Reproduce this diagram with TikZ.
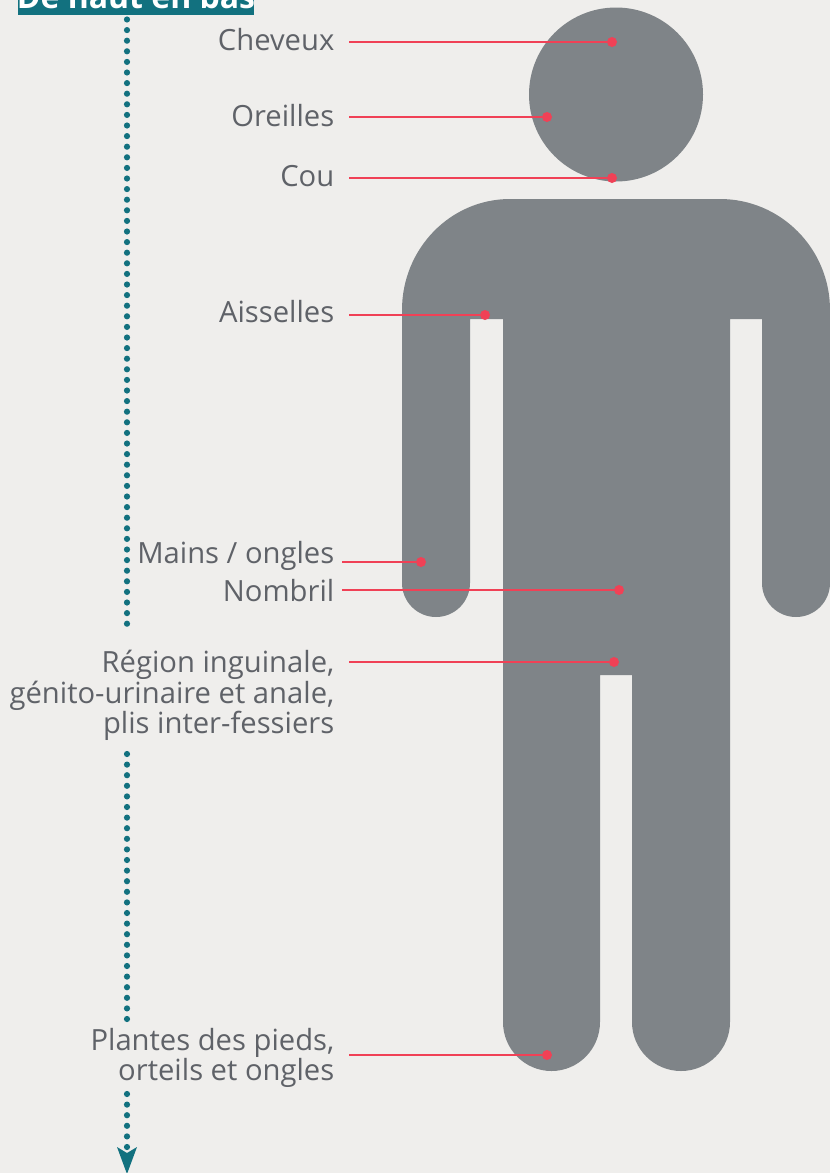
\documentclass[tikz,border=0pt]{standalone}
\usepackage{fontspec}
\setmainfont{Open Sans}
\definecolor{bgc}{HTML}{EFEEEC}
\definecolor{bodyc}{HTML}{7F8488}
\definecolor{tealc}{HTML}{12717F}
\definecolor{redc}{HTML}{F04156}
\definecolor{textc}{HTML}{5F6268}
\tikzset{
 lab/.style={anchor=east,align=right,text=textc,font=\fontsize{29.2}{30.5}\selectfont,inner sep=0pt},
 pin/.style={circle,fill=redc,inner sep=0pt,minimum size=10pt},
 lead/.style={draw=redc,line width=2.7pt},
 dots/.style={draw=tealc,line width=6.2pt,line cap=round,dash pattern=on 0pt off 10.6pt},
}
\begin{document}
\begin{tikzpicture}[x=1pt,y=-1pt]
\useasboundingbox (0,0) rectangle (830,1173);
\clip (0,0) rectangle (830,1173);
\fill[bgc] (0,0) rectangle (830,1173);
% figure
\fill[bodyc] (616,94.5) circle[radius=87];
\fill[bodyc] (402,310) arc[start angle=180,end angle=270,x radius=108,y radius=111]
  -- (720,199) arc[start angle=270,end angle=360,x radius=110,y radius=111]
  -- (830,583) arc[start angle=0,end angle=180,radius=34]
  -- (762,319) -- (730,319)
  -- (730,1022) arc[start angle=0,end angle=180,x radius=49,y radius=49]
  -- (632,675) -- (600,675)
  -- (600,1022) arc[start angle=0,end angle=180,x radius=48.5,y radius=49]
  -- (503,319) -- (470,319)
  -- (470,583) arc[start angle=0,end angle=180,radius=34] -- cycle;
% header
\fill[tealc] (18,-5) rectangle (254,15);
\node[anchor=base,text=white,font=\fontsize{32}{32}\selectfont\bfseries,inner sep=0pt] (hdr) at (136,8) {De haut en bas};
% dotted axis
\coordinate (a1) at (127,19.5); \coordinate (a2) at (127,628);
\coordinate (b1) at (127,754); \coordinate (b2) at (127,1021);
\coordinate (c1) at (127,1094); \coordinate (c2) at (127,1148);
\draw[dots] (a1) -- (a2);
\draw[dots] (b1) -- (b2);
\draw[dots] (c1) -- (c2);
\fill[tealc] (117,1147) -- (127,1153) -- (137,1147) -- (127,1174) -- cycle;
% labels
\node[lab] (l1) at (334.5,40) {Cheveux};
\node[lab] (l2) at (334.5,115.5) {Oreilles};
\node[lab] (l3) at (334.5,176.5) {Cou};
\node[lab] (l4) at (334.5,312) {Aisselles};
\node[lab] (l5) at (334.5,555.5) {Mains / ongles};
\node[lab] (l6) at (334.5,590.5) {Nombril};
\node[lab] (l7) at (334.5,695.5) {Région inguinale,\\génito-urinaire et anale,\\plis inter-fessiers};
\node[lab] (l8) at (334.5,1058) {Plantes des pieds,\\orteils et ongles};
% pins
\node[pin] (p1) at (612,42) {};
\node[pin] (p2) at (547,117) {};
\node[pin] (p3) at (612,178) {};
\node[pin] (p4) at (485,315) {};
\node[pin] (p5) at (421,562) {};
\node[pin] (p6) at (619,590) {};
\node[pin] (p7) at (614,662) {};
\node[pin] (p8) at (547,1055) {};
% lead starts
\coordinate (s1) at (349,42);
\coordinate (s2) at (349,117);
\coordinate (s3) at (349,178);
\coordinate (s4) at (349,315);
\coordinate (s5) at (342,562);
\coordinate (s6) at (342,590);
\coordinate (s7) at (349,662);
\coordinate (s8) at (349,1055);
\foreach \i in {1,...,8} \draw[lead] (s\i) -- (p\i);
\end{tikzpicture}
\end{document}
